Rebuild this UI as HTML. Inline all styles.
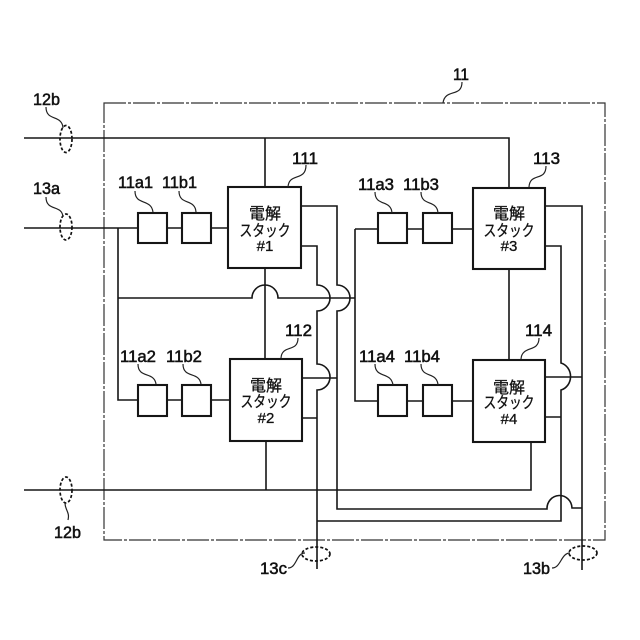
<!DOCTYPE html>
<html>
<head>
<meta charset="utf-8">
<style>
html,body{margin:0;padding:0;background:#fff;width:640px;height:640px;overflow:hidden}
svg{display:block}
text{font-family:"Liberation Sans","Noto Sans CJK JP",sans-serif;font-size:17px;fill:#111;stroke:#111;stroke-width:.55}
.j{font-size:16px;text-anchor:middle;stroke-width:.3}
.k{font-size:15px;text-anchor:middle;stroke-width:.3}
.w{fill:none;stroke:#161616;stroke-width:1.6}
.b{fill:#fff;stroke:#161616;stroke-width:2.1}
.l{fill:none;stroke:#222;stroke-width:1.2}
.e{fill:none;stroke:#111;stroke-width:1.7;stroke-dasharray:3 2}
</style>
</head>
<body>
<svg width="640" height="640" viewBox="0 0 640 640" xmlns="http://www.w3.org/2000/svg">
<rect x="104" y="103" width="501" height="437" fill="none" stroke="#333" stroke-width="1.2" stroke-dasharray="22 2 3 2"/>

<!-- power lines -->
<path class="w" d="M24 138H509V188M265 138V187"/>
<path class="w" d="M24 228H138M167 228H182M211 228H228"/>
<path class="w" d="M118 228V400H138M167 400H182M211 400H230"/>
<path class="w" d="M118 298H252A13 13 0 0 1 278 298H355"/>
<path class="w" d="M355 229V401H378M355 229H378M408 229H423M452 229H473M408 401H423M452 401H473"/>
<path class="w" d="M265 268V359M266 441V490M24 490H531V442M509 269V360"/>

<!-- stack outputs -->
<path class="w" d="M301 206H337V285A13 13 0 0 1 337 311V509H547A12.5 13 0 0 1 572 508H582"/>
<path class="w" d="M301 246H317V285A13 13 0 0 1 317 311V364A13 13 0 0 1 317 390V569"/>
<path class="w" d="M302 378H337M302 418H317"/>
<path class="w" d="M545 206H582V570"/>
<path class="w" d="M545 246H561V363A13 14 0 0 1 561 390V521H317"/>
<path class="w" d="M545 377H582M545 417H561"/>

<!-- boxes -->
<rect class="b" x="138" y="213" width="29" height="30"/>
<rect class="b" x="182" y="213" width="29" height="30"/>
<rect class="b" x="138" y="385" width="29" height="31"/>
<rect class="b" x="182" y="385" width="29" height="31"/>
<rect class="b" x="378" y="213" width="29" height="30"/>
<rect class="b" x="423" y="213" width="29" height="30"/>
<rect class="b" x="378" y="385" width="29" height="31"/>
<rect class="b" x="423" y="385" width="29" height="31"/>
<rect class="b" x="228" y="187" width="73" height="81"/>
<rect class="b" x="230" y="359" width="72" height="82"/>
<rect class="b" x="473" y="188" width="72" height="81"/>
<rect class="b" x="473" y="360" width="72" height="82"/>

<!-- ellipses -->
<ellipse class="e" cx="66" cy="139" rx="6" ry="13.5"/>
<ellipse class="e" cx="66" cy="227" rx="6" ry="13"/>
<ellipse class="e" cx="66" cy="490" rx="6" ry="13"/>
<ellipse class="e" cx="316" cy="554" rx="14" ry="7"/>
<ellipse class="e" cx="583" cy="553" rx="14" ry="7"/>

<!-- leaders -->
<path class="l" d="M46 107C46 122 62 114 63 128"/>
<path class="l" d="M46 197C46 212 62 204 63 217"/>
<path class="l" d="M135 191C135 206 151 198 153 212"/>
<path class="l" d="M179 191C179 206 195 198 196 212"/>
<path class="l" d="M306 165C306 182 289 172 288 187"/>
<path class="l" d="M462 82C462 98 445 88 443 103"/>
<path class="l" d="M546 166C546 182 530 172 529 187"/>
<path class="l" d="M375 192C375 207 391 199 392 213"/>
<path class="l" d="M421 192C421 207 437 199 438 213"/>
<path class="l" d="M138 364C138 379 154 371 156 384"/>
<path class="l" d="M183 364C183 379 199 371 201 384"/>
<path class="l" d="M298 338C298 353 282 344 281 358"/>
<path class="l" d="M539 338C539 353 522 345 521 359"/>
<path class="l" d="M375 364C375 379 391 371 393 385"/>
<path class="l" d="M421 364C421 379 437 371 438 385"/>
<path class="l" d="M65 503C65 510 70 512 68 520"/>
<path class="l" d="M288 568C297 568 296 553 305 553"/>
<path class="l" d="M552 568C561 568 561 553 570 553"/>

<!-- labels -->
<text x="33" y="105" textLength="27" lengthAdjust="spacingAndGlyphs">12b</text>
<text x="33" y="194" textLength="27" lengthAdjust="spacingAndGlyphs">13a</text>
<text x="54" y="538" textLength="27" lengthAdjust="spacingAndGlyphs">12b</text>
<text x="260" y="574" textLength="27" lengthAdjust="spacingAndGlyphs">13c</text>
<text x="523" y="574" textLength="27" lengthAdjust="spacingAndGlyphs">13b</text>
<text x="453" y="80" textLength="16" lengthAdjust="spacingAndGlyphs">11</text>
<text x="118" y="188" textLength="35" lengthAdjust="spacingAndGlyphs">11a1</text>
<text x="162" y="188" textLength="35" lengthAdjust="spacingAndGlyphs">11b1</text>
<text x="120" y="362" textLength="36" lengthAdjust="spacingAndGlyphs">11a2</text>
<text x="166" y="362" textLength="36" lengthAdjust="spacingAndGlyphs">11b2</text>
<text x="358" y="190" textLength="36" lengthAdjust="spacingAndGlyphs">11a3</text>
<text x="403" y="190" textLength="36" lengthAdjust="spacingAndGlyphs">11b3</text>
<text x="359" y="362" textLength="36" lengthAdjust="spacingAndGlyphs">11a4</text>
<text x="404" y="362" textLength="36" lengthAdjust="spacingAndGlyphs">11b4</text>
<text x="292" y="164" textLength="26" lengthAdjust="spacingAndGlyphs">111</text>
<text x="285" y="336" textLength="27" lengthAdjust="spacingAndGlyphs">112</text>
<text x="533" y="164" textLength="27" lengthAdjust="spacingAndGlyphs">113</text>
<text x="525" y="336" textLength="27" lengthAdjust="spacingAndGlyphs">114</text>

<text class="j" x="265" y="219">電解</text>
<text class="j" x="265" y="236" textLength="51" lengthAdjust="spacingAndGlyphs">スタック</text>
<text class="k" x="265" y="251">#1</text>
<text class="j" x="266" y="391">電解</text>
<text class="j" x="266" y="407" textLength="51" lengthAdjust="spacingAndGlyphs">スタック</text>
<text class="k" x="266" y="423">#2</text>
<text class="j" x="509" y="219">電解</text>
<text class="j" x="509" y="236" textLength="51" lengthAdjust="spacingAndGlyphs">スタック</text>
<text class="k" x="509" y="251">#3</text>
<text class="j" x="509" y="393">電解</text>
<text class="j" x="509" y="408" textLength="51" lengthAdjust="spacingAndGlyphs">スタック</text>
<text class="k" x="509" y="424">#4</text>
</svg>
</body>
</html>
